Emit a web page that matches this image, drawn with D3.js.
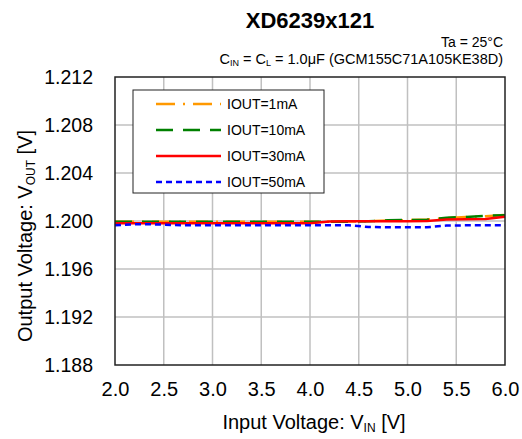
<!DOCTYPE html>
<html>
<head>
<meta charset="utf-8">
<script src="https://cdn.jsdelivr.net/npm/d3@7"></script>
<style>
  body { margin: 0; background: #fff; }
  svg text { font-family: "Liberation Sans", Arial, sans-serif; fill: #000; }
</style>
</head>
<body>
<svg id="chart" width="522" height="439"></svg>
<script>
// Input voltage samples (V)
const vin = [2.0, 2.2, 2.4, 2.6, 2.8, 3.0, 3.2, 3.4, 3.6, 3.8, 4.0,
             4.2, 4.4, 4.6, 4.8, 5.0, 5.2, 5.4, 5.6, 5.8, 6.0];

// Output voltage per load current (V)
const vout1mA  = [1.19994, 1.19994, 1.19994, 1.19994, 1.19994, 1.19994, 1.19994, 1.19994, 1.19994, 1.19994, 1.19994,
                  1.19994, 1.19995, 1.19999, 1.20004, 1.20008, 1.20012, 1.20025, 1.20033, 1.20040, 1.20050];
const vout10mA = [1.19993, 1.19993, 1.19993, 1.19993, 1.19993, 1.19993, 1.19993, 1.19993, 1.19993, 1.19993, 1.19993,
                  1.19993, 1.19994, 1.19998, 1.20006, 1.20008, 1.20010, 1.20028, 1.20033, 1.20043, 1.20048];
const vout30mA = [1.19981, 1.19981, 1.19981, 1.19981, 1.19981, 1.19981, 1.19981, 1.19981, 1.19981, 1.19981, 1.19982,
                  1.19995, 1.19998, 1.19998, 1.19998, 1.19998, 1.19999, 1.20012, 1.20014, 1.20016, 1.20036];
const vout50mA = [1.19964, 1.19972, 1.19972, 1.19966, 1.19964, 1.19964, 1.19964, 1.19964, 1.19964, 1.19964, 1.19964,
                  1.19964, 1.19964, 1.19950, 1.19948, 1.19948, 1.19948, 1.19962, 1.19964, 1.19964, 1.19964];

const xTicks = [2.0, 2.5, 3.0, 3.5, 4.0, 4.5, 5.0, 5.5, 6.0];
const yTicks = [1.188, 1.192, 1.196, 1.200, 1.204, 1.208, 1.212];

const series = [
    { name: "IOUT=1mA",  values: vout1mA,  color: "#ff9900", dash: "19,8,2,8" },
    { name: "IOUT=10mA", values: vout10mA, color: "#008000", dash: "17,10" },
    { name: "IOUT=30mA", values: vout30mA, color: "#ff0000", dash: null },
    { name: "IOUT=50mA", values: vout50mA, color: "#0000ff", dash: "6,4" }
];

const svg = d3.select("#chart"),
    margin = { top: 77, right: 17, bottom: 74, left: 115 },
    width = +svg.attr("width") - margin.left - margin.right,
    height = +svg.attr("height") - margin.top - margin.bottom;

const g = svg.append("g")
    .attr("transform", `translate(${margin.left},${margin.top})`);

const x = d3.scaleLinear().domain([2.0, 6.0]).range([0, width]);
const y = d3.scaleLinear().domain([1.188, 1.212]).range([height, 0]);

// Grid
g.append("g")
    .selectAll("line.vgrid")
    .data(xTicks.slice(1, -1))
    .enter().append("line")
    .attr("x1", d => x(d)).attr("x2", d => x(d))
    .attr("y1", 0).attr("y2", height)
    .attr("stroke", "#c0c0c0").attr("stroke-width", 1.5);

g.append("g")
    .selectAll("line.hgrid")
    .data(yTicks.slice(1, -1))
    .enter().append("line")
    .attr("x1", 0).attr("x2", width)
    .attr("y1", d => y(d)).attr("y2", d => y(d))
    .attr("stroke", "#c0c0c0").attr("stroke-width", 1.5);

// Axes (labels only, no tick marks)
const xAxis = g.append("g")
    .attr("transform", `translate(0,${height})`)
    .call(d3.axisBottom(x).tickValues(xTicks).tickFormat(d3.format(".1f")).tickSize(0).tickPadding(17));
xAxis.select(".domain").remove();
xAxis.selectAll("text").attr("font-size", 20).attr("fill", "#000")
    .attr("font-family", "Liberation Sans, Arial, sans-serif");

const yAxis = g.append("g")
    .call(d3.axisLeft(y).tickValues(yTicks).tickFormat(d3.format(".3f")).tickSize(0).tickPadding(22));
yAxis.select(".domain").remove();
yAxis.selectAll("text").attr("font-size", 19.5).attr("fill", "#000")
    .attr("font-family", "Liberation Sans, Arial, sans-serif");

// Data lines
const line = d3.line()
    .x((d, i) => x(vin[i]))
    .y(d => y(d));

series.forEach(s => {
    g.append("path")
        .datum(s.values)
        .attr("fill", "none")
        .attr("stroke", s.color)
        .attr("stroke-width", 2.5)
        .attr("stroke-dasharray", s.dash)
        .attr("d", line);
});

// Plot frame
g.append("rect")
    .attr("width", width).attr("height", height)
    .attr("fill", "none").attr("stroke", "#222").attr("stroke-width", 1.5);

// Legend
const legend = svg.append("g").attr("transform", "translate(133,90)");
legend.append("rect")
    .attr("width", 191).attr("height", 103)
    .attr("fill", "#fff").attr("stroke", "#222").attr("stroke-width", 1);

series.forEach((s, i) => {
    const ly = 14 + i * 26;
    legend.append("line")
        .attr("x1", 23).attr("x2", 88)
        .attr("y1", ly).attr("y2", ly)
        .attr("stroke", s.color).attr("stroke-width", 2.5)
        .attr("stroke-dasharray", s.dash);
    legend.append("text")
        .attr("x", 94).attr("y", ly + 5)
        .attr("font-size", 14)
        .text(s.name);
});

// Titles
svg.append("text")
    .attr("x", 310).attr("y", 28)
    .attr("text-anchor", "middle")
    .attr("font-size", 22).attr("font-weight", "bold")
    .text("XD6239x121");

svg.append("text")
    .attr("x", 503).attr("y", 46.5)
    .attr("text-anchor", "end")
    .attr("font-size", 14)
    .text("Ta = 25\u00b0C");

const cond = svg.append("text")
    .attr("x", 503).attr("y", 63.5)
    .attr("text-anchor", "end")
    .attr("font-size", 14.5);
cond.append("tspan").text("C");
cond.append("tspan").attr("font-size", 9).attr("dy", 2).text("IN");
cond.append("tspan").attr("dy", -2).text(" = C");
cond.append("tspan").attr("font-size", 9).attr("dy", 2).text("L");
cond.append("tspan").attr("dy", -2).text(" = 1.0\u03bcF (GCM155C71A105KE38D)");

const xt = svg.append("text")
    .attr("x", 314).attr("y", 429)
    .attr("text-anchor", "middle")
    .attr("font-size", 20);
xt.append("tspan").text("Input Voltage: V");
xt.append("tspan").attr("font-size", 12).attr("dy", 3).text("IN");
xt.append("tspan").attr("dy", -3).text(" [V]");

const yt = svg.append("text")
    .attr("transform", "translate(32,236) rotate(-90)")
    .attr("text-anchor", "middle")
    .attr("font-size", 20);
yt.append("tspan").text("Output Voltage: V");
yt.append("tspan").attr("font-size", 12).attr("dy", 3).text("OUT");
yt.append("tspan").attr("dy", -3).text(" [V]");
</script>
</body>
</html>
